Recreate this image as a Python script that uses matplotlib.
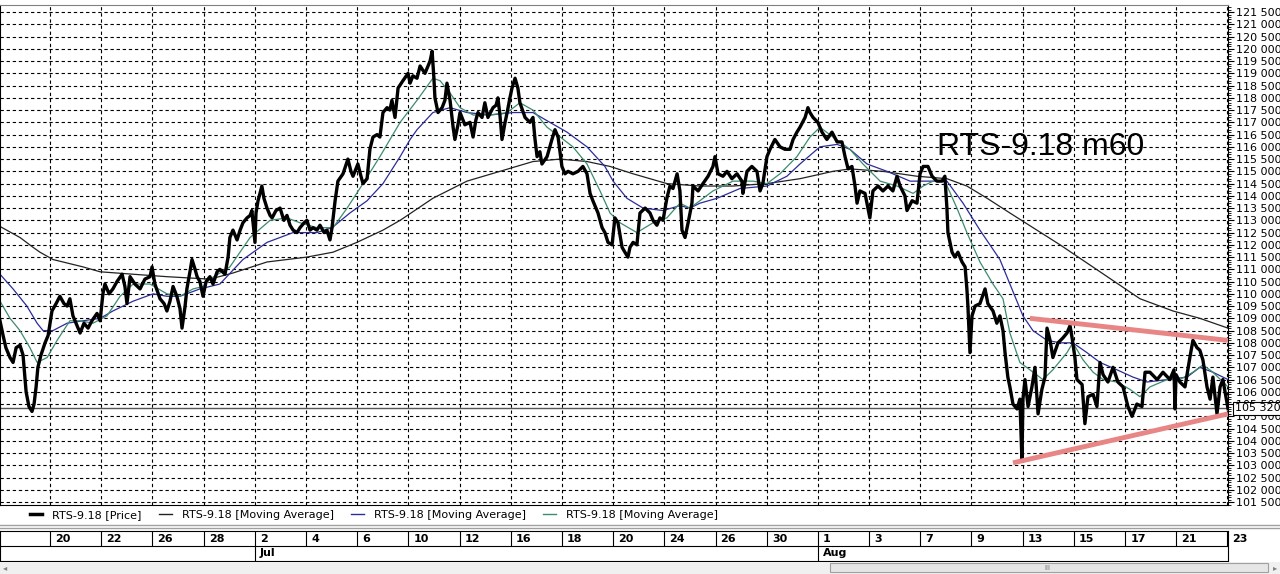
import numpy as np
import matplotlib.pyplot as plt
from matplotlib.lines import Line2D
from matplotlib.patches import Rectangle
from matplotlib.ticker import MultipleLocator, FixedLocator, FuncFormatter

plt.rcParams['font.family'] = ['DejaVu Sans']

# x = trading-day index (0 = 18 Jun 2018), price in thousands, 60 min bars
sec1_day = [0.05, 0.17, 0.28, 0.44, 0.56, 0.68, 0.83, 0.95, 1.07, 1.18, 1.30, 1.38, 1.46, 1.53, 1.65, 1.81,
            1.93, 2.08, 2.24, 2.39, 2.55, 2.67, 2.78, 2.90, 3.06, 3.18, 3.33, 3.49, 3.64, 3.84, 3.96, 4.07,
            4.15, 4.31, 4.46, 4.62, 4.82, 4.93, 5.01, 5.13, 5.32, 5.52, 5.71, 5.91, 5.99, 6.10, 6.30, 6.46,
            6.57, 6.69, 6.81, 6.96, 7.08, 7.16, 7.28, 7.35, 7.47, 7.55, 7.67, 7.75, 7.86, 7.98, 8.10, 8.25]
sec1_px = [108.9, 108.3, 107.8, 107.4, 107.2, 107.8, 107.9, 107.5, 106.0, 105.4, 105.2, 105.5, 106.2, 107.0, 107.5, 108.0,
           108.3, 109.3, 109.6, 109.9, 109.6, 109.5, 109.8, 109.1, 108.7, 108.4, 108.8, 108.6, 108.9, 109.2, 108.9, 110.0,
           110.4, 110.0, 110.2, 110.5, 110.8, 110.3, 109.6, 110.7, 110.4, 110.2, 110.6, 110.7, 111.1, 110.4, 109.8, 109.6,
           109.3, 109.7, 110.3, 109.9, 109.4, 108.6, 109.5, 110.2, 110.9, 111.4, 111.0, 110.7, 110.5, 109.9, 110.5, 110.7]

sec2_day = [8.37, 8.53, 8.64, 8.84, 8.96, 9.03, 9.15, 9.31, 9.43, 9.54, 9.70, 9.82, 9.89, 10.01, 10.05, 10.13,
            10.28, 10.36, 10.48, 10.60, 10.68, 10.83, 10.99, 11.14, 11.26, 11.38, 11.50, 11.65, 11.77, 11.93, 12.04, 12.16,
            12.28, 12.43, 12.55, 12.71, 12.82, 12.94, 13.02, 13.14, 13.25, 13.45, 13.64, 13.76, 13.84, 14.03, 14.15, 14.23,
            14.39, 14.50, 14.62, 14.78, 14.89, 15.01, 15.17, 15.28, 15.36, 15.48, 15.60, 15.79, 15.99]
sec2_px = [110.4, 110.9, 111.0, 110.8, 111.5, 112.3, 112.6, 112.2, 112.6, 112.9, 113.1, 113.2, 113.4, 112.1, 113.3, 113.8,
           114.4, 113.9, 113.5, 113.2, 113.1, 113.4, 113.5, 113.0, 113.2, 112.8, 112.6, 112.5, 112.7, 112.9, 113.0, 112.6,
           112.7, 112.6, 112.8, 112.5, 112.6, 112.2, 112.7, 113.8, 114.6, 114.9, 115.5, 115.0, 114.8, 115.3, 114.8, 114.5,
           114.7, 115.9, 116.4, 116.5, 116.4, 117.4, 117.6, 117.5, 117.9, 117.2, 118.4, 118.7, 119.0]

sec3_day = [16.07, 16.18, 16.34, 16.46, 16.65, 16.77, 16.85, 16.93, 17.00, 17.04, 17.16, 17.32, 17.43, 17.51, 17.63, 17.75,
            17.82, 17.94, 18.02, 18.21, 18.41, 18.53, 18.64, 18.72, 18.88, 18.99, 19.11, 19.31, 19.43, 19.50, 19.58, 19.66,
            19.78, 19.86, 19.97, 20.05, 20.17, 20.28, 20.36, 20.56, 20.75, 20.87, 20.95, 21.03, 21.14, 21.22, 21.42, 21.53,
            21.61, 21.73, 21.85, 22.00, 22.12, 22.24, 22.43, 22.63, 22.82, 22.98, 23.10, 23.21, 23.41, 23.57, 23.68, 23.80]
sec3_px = [118.6, 118.9, 118.8, 119.3, 119.0, 119.3, 119.5, 119.9, 118.8, 118.0, 117.4, 117.6, 117.9, 118.6, 117.9, 116.8,
           116.3, 116.9, 117.4, 116.9, 117.0, 116.4, 117.1, 117.4, 117.2, 117.8, 117.2, 117.6, 117.7, 118.0, 117.3, 116.3,
           117.0, 117.4, 118.0, 118.4, 118.8, 118.4, 117.8, 117.2, 117.0, 117.2, 116.3, 115.6, 115.8, 115.3, 115.6, 116.0,
           116.3, 116.7, 116.4, 115.2, 114.9, 115.0, 114.9, 115.0, 115.2, 114.9, 114.1, 113.8, 113.3, 112.7, 112.5, 112.1]

sec4_day = [23.96, 24.07, 24.19, 24.35, 24.46, 24.58, 24.66, 24.78, 24.93, 25.05, 25.25, 25.44, 25.56, 25.71, 25.83, 25.95,
            26.10, 26.22, 26.34, 26.50, 26.61, 26.69, 26.81, 26.93, 27.08, 27.12, 27.32, 27.51, 27.71, 27.90, 27.98, 28.10,
            28.29, 28.45, 28.64, 28.84, 29.03, 29.07, 29.23, 29.42, 29.62, 29.74, 29.85, 30.01, 30.13, 30.32, 30.52, 30.71,
            30.91, 31.03, 31.18, 31.30, 31.50, 31.61]
sec4_px = [112.0, 113.1, 112.9, 111.9, 111.7, 111.5, 111.9, 112.1, 112.0, 113.3, 113.5, 113.3, 113.0, 112.8, 113.1, 113.0,
           113.9, 114.4, 114.3, 114.9, 114.2, 112.6, 112.3, 112.9, 113.7, 114.4, 114.2, 114.5, 114.8, 115.2, 115.6, 114.9,
           114.8, 115.0, 114.7, 114.9, 114.6, 114.1, 115.0, 115.2, 115.0, 114.2, 114.5, 115.6, 115.9, 116.3, 116.0, 115.9,
           115.9, 116.3, 116.6, 116.8, 117.2, 117.6]

sec5_day = [31.69, 31.81, 32.00, 32.16, 32.35, 32.55, 32.75, 32.94, 33.06, 33.18, 33.33, 33.45, 33.53, 33.64, 33.84, 34.03,
            34.15, 34.35, 34.54, 34.74, 34.93, 35.09, 35.21, 35.40, 35.48, 35.68, 35.87, 35.99, 36.11, 36.30, 36.46, 36.65,
            36.85, 36.96, 37.04, 37.08, 37.24, 37.35, 37.47, 37.63, 37.75, 37.82, 37.86, 37.94, 38.02, 38.14, 38.33, 38.53,
            38.64, 38.84, 38.99, 39.11, 39.23, 39.31, 39.42, 39.50]
sec5_px = [117.4, 117.2, 117.0, 116.6, 116.3, 116.6, 116.2, 116.2, 115.6, 115.1, 115.2, 114.4, 113.7, 114.2, 114.1, 113.1,
           114.2, 114.4, 114.2, 114.4, 114.2, 114.8, 114.4, 114.0, 113.4, 113.8, 113.7, 114.9, 115.2, 115.2, 114.8, 114.6,
           114.6, 114.8, 113.5, 112.5, 111.7, 111.5, 111.7, 111.3, 111.1, 110.2, 109.5, 107.6, 109.1, 109.5, 109.6, 110.2,
           109.6, 109.3, 108.8, 109.1, 108.5, 107.6, 106.6, 106.2]

sec6_day = [39.62, 39.78, 39.89, 39.97, 40.01, 40.09, 40.21, 40.36, 40.48, 40.60, 40.75, 40.87, 40.95, 41.07, 41.18, 41.38,
            41.57, 41.73, 41.85, 41.93, 42.04, 42.12, 42.32, 42.43, 42.55, 42.75, 42.90, 43.02, 43.14, 43.33, 43.53, 43.72,
            43.92, 44.11, 44.27, 44.46, 44.66, 44.78, 44.97, 45.25, 45.48, 45.75, 45.91, 45.95, 45.99, 46.14, 46.34, 46.53,
            46.65, 46.81, 46.92, 47.04, 47.20, 47.32, 47.43, 47.59, 47.71, 47.82, 47.94, 48.02]
sec6_px = [105.5, 105.3, 105.7, 103.2, 105.7, 106.5, 105.4, 106.2, 107.0, 105.1, 106.1, 106.6, 108.6, 108.1, 107.4, 108.0,
           108.2, 108.4, 108.7, 108.2, 107.4, 106.5, 106.3, 104.7, 105.8, 105.9, 105.4, 107.2, 106.7, 106.4, 107.0, 106.4,
           106.2, 105.4, 105.0, 105.5, 105.4, 106.8, 106.8, 106.5, 106.8, 106.5, 106.9, 105.3, 106.7, 106.4, 106.2, 107.4,
           108.1, 107.8, 107.7, 107.3, 106.2, 105.7, 106.6, 105.1, 106.2, 106.5, 105.8, 105.32]

# moving averages (thousands)
ma_long_day = [0.05, 0.83, 1.34, 1.61, 2.12, 3.29, 3.96, 5.25, 6.57, 8.25, 9.15, 10.48, 12.04, 13.06, 13.99, 15.01,
               15.68, 16.96, 18.29, 19.58, 20.87, 21.93, 22.98, 23.88, 24.78, 26.10, 27.39, 28.68, 30.01, 31.30, 32.59,
               33.25, 34.54, 35.87, 37.04, 37.82, 38.61, 39.50, 41.46, 43.02, 44.58, 45.87, 46.92, 48.02]
ma_long_px = [112.75, 112.3, 111.9, 111.7, 111.4, 111.1, 110.9, 110.8, 110.7, 110.6, 110.85, 111.3, 111.5, 111.7, 112.1,
              112.6, 113.0, 113.9, 114.6, 115.0, 115.4, 115.5, 115.4, 115.2, 114.9, 114.5, 114.4, 114.4, 114.5, 114.7,
              115.0, 115.1, 115.0, 114.8, 114.7, 114.4, 113.9, 113.3, 112.0, 110.9, 109.8, 109.3, 109.0, 108.6]

ma_mid_day = [0.05, 0.56, 1.10, 1.50, 1.73, 2.12, 2.67, 3.29, 3.96, 4.46, 5.25, 6.03, 6.57, 7.08, 7.86, 8.64, 9.54,
              10.48, 11.50, 12.43, 13.02, 13.72, 14.39, 15.01, 15.68, 16.07, 16.34, 16.96, 17.63, 18.29, 19.19, 20.09,
              20.87, 21.53, 22.20, 22.98, 23.68, 24.00, 24.54, 25.17, 25.95, 26.61, 27.00, 27.39, 28.06, 28.96, 30.01,
              30.79, 31.30, 32.08, 32.75, 33.25, 33.92, 34.70, 35.60, 37.04, 37.67, 38.33, 39.11, 39.50, 40.01, 40.40,
              40.95, 41.46, 41.96, 42.51, 43.02, 43.68, 44.31, 44.86, 45.64, 46.42, 46.92, 47.43, 48.02]
ma_mid_px = [110.8, 110.2, 109.5, 108.8, 108.5, 108.5, 108.8, 108.9, 109.0, 109.3, 109.7, 110.0, 109.9, 109.9, 110.2,
             110.4, 111.4, 112.1, 112.5, 112.5, 112.7, 113.3, 113.8, 114.5, 115.6, 116.3, 116.7, 117.4, 117.6, 117.4,
             117.3, 117.4, 117.4, 117.0, 116.6, 116.0, 115.2, 114.6, 113.9, 113.5, 113.4, 113.6, 113.5, 113.7, 113.9,
             114.3, 114.4, 114.8, 115.3, 116.0, 116.1, 115.9, 115.3, 115.0, 114.6, 114.6, 113.7, 112.6, 111.4, 110.4,
             109.1, 108.5, 108.1, 108.0, 108.0, 107.6, 107.2, 106.9, 106.6, 106.4, 106.5, 106.6, 107.0, 106.8, 106.5]

ma_short_day = [0.05, 0.44, 0.83, 1.22, 1.50, 1.89, 2.28, 2.78, 3.18, 3.68, 4.23, 4.74, 5.25, 5.91, 6.57, 7.08, 7.59,
                7.98, 8.25, 9.03, 9.82, 10.60, 11.26, 11.77, 12.43, 13.06, 13.61, 14.23, 14.89, 15.68, 16.34, 16.96,
                17.24, 17.63, 18.02, 18.53, 19.19, 19.86, 20.36, 20.87, 21.42, 21.81, 22.43, 22.98, 23.49, 23.88, 24.27,
                24.93, 25.56, 26.10, 26.61, 27.00, 27.39, 27.90, 28.68, 29.46, 30.01, 30.52, 31.18, 31.69, 32.08, 32.59,
                33.25, 33.76, 34.43, 35.09, 35.72, 36.11, 36.50, 36.96, 37.43, 37.82, 38.33, 38.84, 39.23, 39.50, 39.89,
                40.28, 40.79, 41.18, 41.73, 41.96, 42.36, 42.75, 43.14, 43.68, 44.19, 44.58, 44.97, 45.64, 46.14, 46.65,
                47.04, 47.43, 48.02]
ma_short_px = [109.7, 109.0, 108.5, 107.8, 107.2, 107.4, 108.1, 108.9, 108.9, 108.8, 109.1, 109.9, 110.4, 110.4, 110.0,
               109.9, 110.2, 110.3, 110.6, 111.1, 112.3, 113.0, 113.1, 112.9, 112.7, 112.7, 113.5, 114.5, 115.6, 117.0,
               117.9, 118.8, 118.7, 118.2, 117.6, 117.3, 117.3, 117.4, 117.8, 117.5, 116.8, 116.5, 116.0, 115.3, 114.2,
               113.3, 112.9, 112.5, 112.9, 113.1, 113.7, 113.5, 113.8, 114.2, 114.6, 114.6, 114.5, 114.9, 115.6, 116.4,
               116.8, 116.4, 115.9, 115.3, 114.6, 114.4, 114.1, 114.4, 114.6, 114.6, 113.5, 112.5, 111.3, 110.4, 109.8,
               108.4, 107.2, 106.9, 106.5, 106.9, 107.6, 108.0, 107.3, 106.8, 106.5, 106.4, 106.1, 105.8, 106.2, 106.5,
               106.5, 106.8, 107.1, 106.8, 106.2]

# drawn trend lines (triangle) and last price
trend_up_day = [40.28, 48.02]
trend_up_px = [109.0, 108.1]
trend_lo_day = [39.62, 48.02]
trend_lo_px = [103.1, 105.1]
last_price = 105320

tick_days = list(range(2, 49, 2))
tick_labels = ['20', '22', '26', '28', '2', '4', '6', '10', '12', '16', '18', '20',
               '24', '26', '30', '1', '3', '7', '9', '13', '15', '17', '21', '23']
months = [(10, 'Jul'), (32, 'Aug')]

price_day = sec1_day + sec2_day + sec3_day + sec4_day + sec5_day + sec6_day
price_k = sec1_px + sec2_px + sec3_px + sec4_px + sec5_px + sec6_px
price = np.array(price_k) * 1000

W, H = 1280, 574
def box(x0, y0, x1, y1):
    return [x0 / W, 1 - y1 / H, (x1 - x0) / W, (y1 - y0) / H]

fig = plt.figure(figsize=(12.8, 5.74), dpi=100)
fig.patch.set_facecolor('white')

ax = fig.add_axes(box(0, 5, 1228, 505))
ax.set_xlim(0.05, 48.02)
ax.set_ylim(101380, 121790)

dash = (0, (3, 2.5))
ax.xaxis.set_major_locator(FixedLocator(tick_days))
ax.yaxis.set_major_locator(MultipleLocator(500))
ax.yaxis.set_minor_locator(MultipleLocator(100))
ax.grid(True, which='major', color='black', lw=0.8, ls=dash)
ax.set_axisbelow(True)
ax.tick_params(axis='x', length=0, labelbottom=False)
ax.yaxis.tick_right()
ax.tick_params(axis='y', which='major', length=4, pad=2, labelsize=8, colors='black')
ax.tick_params(axis='y', which='minor', length=2)
ax.yaxis.set_major_formatter(FuncFormatter(lambda v, p: f"{int(v):,}".replace(',', ' ')))
for s in ax.spines.values():
    s.set_linewidth(0.8)
ax.spines['top'].set_color('#808080')

ax.plot(np.array(ma_long_day), np.array(ma_long_px) * 1000, color='#222222', lw=0.9, zorder=2)
ax.plot(np.array(ma_mid_day), np.array(ma_mid_px) * 1000, color='#2c2c9a', lw=0.9, zorder=2)
ax.plot(np.array(ma_short_day), np.array(ma_short_px) * 1000, color='#3d8c6c', lw=0.9, zorder=2)
ax.plot(price_day, price, color='black', lw=2.4, zorder=3)

ax.axhline(last_price, color='#555555', lw=1.0, zorder=2.5)
ax.plot(trend_up_day, np.array(trend_up_px) * 1000, color='#e88585', lw=3.5, solid_capstyle='butt', zorder=4)
ax.plot(trend_lo_day, np.array(trend_lo_px) * 1000, color='#e88585', lw=3.5, solid_capstyle='butt', zorder=4)

ax.annotate(f"{last_price:,}".replace(',', ' '), xy=(1, last_price), xycoords=('axes fraction', 'data'),
            xytext=(5, 0), textcoords='offset points', ha='left', va='center', fontsize=8,
            bbox=dict(boxstyle='square,pad=0.15', fc='white', ec='black', lw=0.8),
            annotation_clip=False, zorder=6)

ax.text(36.65, 116000, 'RTS-9.18 m60', fontsize=23, family='Liberation Sans', ha='left', va='center')

# legend row
handles = [Line2D([], [], color='black', lw=2.5),
           Line2D([], [], color='#222222', lw=1),
           Line2D([], [], color='#2c2c9a', lw=1),
           Line2D([], [], color='#3d8c6c', lw=1)]
labels = ['RTS-9.18 [Price]'] + ['RTS-9.18 [Moving Average]'] * 3
fig.legend(handles, labels, loc='center left', bbox_to_anchor=(30 / W, 1 - 515 / H), ncol=4,
           frameon=False, fontsize=8, handlelength=1.1, handletextpad=0.9, columnspacing=1.6,
           borderaxespad=0, borderpad=0)

for yy in (525, 528):
    fig.add_artist(Line2D([0, 1], [1 - yy / H, 1 - yy / H], transform=fig.transFigure, color='#a0a0a0', lw=1))

# date strip
dax = fig.add_axes(box(0, 531, 1228, 561))
dax.set_xlim(0.05, 48.02)
dax.set_ylim(0, 2)
dax.set_xticks([])
dax.set_yticks([])
for s in dax.spines.values():
    s.set_linewidth(0.8)
dax.axhline(1, color='black', lw=0.8)
dax.vlines(tick_days, 1, 2, color='black', lw=0.8)
for d, lab in zip(tick_days, tick_labels):
    dax.text(d + 0.2, 1.5, lab, ha='left', va='center', fontsize=8, fontweight='bold', clip_on=False)
for d, lab in months:
    dax.vlines(d, 0, 1, color='black', lw=0.8)
    dax.text(d + 0.2, 0.5, lab, ha='left', va='center', fontsize=8, fontweight='bold')

# scroll bar
fig.add_artist(Rectangle((0, 0), 1, 12 / H, transform=fig.transFigure, fc='#f0f0f0', ec='none'))
fig.add_artist(Rectangle((830 / W, 2 / H), 438 / W, 9 / H, transform=fig.transFigure,
                         fc='#e6e6e6', ec='#a0a0a0', lw=0.8))
fig.text(1047 / W, 6.5 / H, 'III', fontsize=5, color='#707070', ha='center', va='center')
fig.text(5 / W, 6.5 / H, '◂', fontsize=6, color='#808080', ha='center', va='center')
fig.text(1275 / W, 6.5 / H, '▸', fontsize=6, color='#808080', ha='center', va='center')

fig.savefig('out.png', dpi=100, facecolor='white')
